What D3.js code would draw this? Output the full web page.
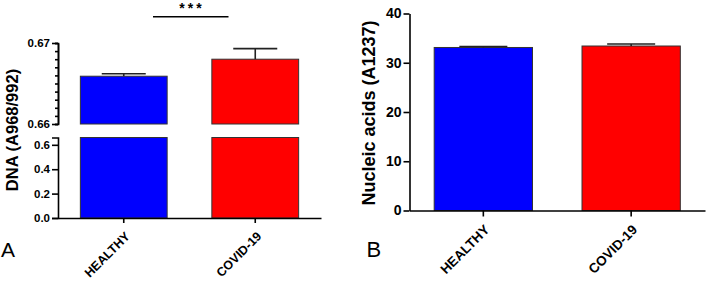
<!DOCTYPE html>
<html>
<head>
<meta charset="utf-8">
<script src="https://cdn.jsdelivr.net/npm/d3@7"></script>
<style>
  body { margin: 0; background: #fff; }
  text { font-family: Arial, "Liberation Sans", sans-serif; }
</style>
</head>
<body>
<div id="chart"></div>
<script>
const width = 708;
const height = 284;

// data
const categories = ["HEALTHY", "COVID-19"];
const dnaMean = [0.6659, 0.6680];
const dnaErr = [0.0003, 0.0013];
const nucleicMean = [33.1, 33.4];
const nucleicErr = [0.2, 0.4];
const dnaUpperTicks = [0.66, 0.67];
const dnaLowerTicks = [0, 0.2, 0.4, 0.6];
const nucleicTicks = [0, 10, 20, 30, 40];
const colors = ["#0000ff", "#ff0000"];

const svg = d3.select("#chart").append("svg")
    .attr("width", width)
    .attr("height", height);

function styleAxis(g, fontSize) {
    g.selectAll("path, line").attr("stroke", "#000").attr("stroke-width", 1.6);
    g.selectAll("text")
        .attr("font-size", fontSize)
        .attr("font-weight", "bold")
        .attr("fill", "#000")
        .attr("font-family", "Arial, 'Liberation Sans', sans-serif");
}

function xLabels(g, x, y0, fontSize, dx, dy) {
    g.selectAll(".xlab")
        .data(categories)
        .join("text")
        .attr("class", "xlab")
        .attr("text-anchor", "end")
        .attr("font-size", fontSize)
        .attr("font-weight", "bold")
        .attr("transform", d => `translate(${x(d) + x.bandwidth() / 2 + dx},${y0 + dy}) rotate(-45)`)
        .text(d => d);
}

// ---------- Panel A (broken axis) ----------
const a = { left: 58, right: 321, zero: 218 };
const xA = d3.scaleBand().domain(categories).range([a.left, a.right])
    .paddingInner(0.34).paddingOuter(0.17);
const yUp = d3.scaleLinear().domain([0.66, 0.67]).range([124, 43]);
const yLow = d3.scaleLinear().domain([0, 0.66]).range([a.zero, 137.5]);

const gA = svg.append("g");

// lower part of bars
gA.selectAll(".lowbar")
    .data(categories)
    .join("rect")
    .attr("x", d => xA(d))
    .attr("width", xA.bandwidth())
    .attr("y", yLow(0.66))
    .attr("height", yLow(0) - yLow(0.66))
    .attr("fill", (d, i) => colors[i])
    .attr("stroke", "#333").attr("stroke-width", 1);

// upper part of bars
gA.selectAll(".upbar")
    .data(categories)
    .join("rect")
    .attr("x", d => xA(d))
    .attr("width", xA.bandwidth())
    .attr("y", (d, i) => yUp(dnaMean[i]))
    .attr("height", (d, i) => yUp(0.66) - yUp(dnaMean[i]))
    .attr("fill", (d, i) => colors[i])
    .attr("stroke", "#333").attr("stroke-width", 1);

// error bars
categories.forEach((c, i) => {
    const cx = xA(c) + xA.bandwidth() / 2;
    gA.append("line")
        .attr("x1", cx).attr("x2", cx)
        .attr("y1", yUp(dnaMean[i])).attr("y2", yUp(dnaMean[i] + dnaErr[i]))
        .attr("stroke", "#222").attr("stroke-width", 1.6);
    gA.append("line")
        .attr("x1", cx - 22).attr("x2", cx + 22)
        .attr("y1", yUp(dnaMean[i] + dnaErr[i])).attr("y2", yUp(dnaMean[i] + dnaErr[i]))
        .attr("stroke", "#222").attr("stroke-width", 1.6);
});

// upper axis with minor ticks
const minorTicks = d3.range(0, 11).map(k => 0.66 + k * 0.001);
gA.append("g")
    .attr("transform", `translate(${a.left},0)`)
    .call(d3.axisLeft(yUp).tickValues(minorTicks).tickSize(3).tickFormat(""))
    .call(g => styleAxis(g, 11));
gA.append("g")
    .attr("transform", `translate(${a.left},0)`)
    .call(d3.axisLeft(yUp).tickValues(dnaUpperTicks).tickSize(6).tickSizeOuter(0).tickPadding(2)
        .tickFormat(d3.format(".2f")))
    .call(g => styleAxis(g, 11.5));

// lower axis
gA.append("g")
    .attr("transform", `translate(${a.left},0)`)
    .call(d3.axisLeft(yLow).tickValues(dnaLowerTicks).tickSize(6).tickSizeOuter(6).tickPadding(2)
        .tickFormat(d3.format(".1f")))
    .call(g => styleAxis(g, 11.5));

// x axis
gA.append("g")
    .attr("transform", `translate(0,${a.zero})`)
    .call(d3.axisBottom(xA).tickSize(5).tickSizeOuter(0).tickFormat(""))
    .call(g => styleAxis(g, 11));
xLabels(gA, xA, a.zero, 12.5, 7, 19);

gA.append("text")
    .attr("transform", `translate(18,130) rotate(-90)`)
    .attr("text-anchor", "middle")
    .attr("font-size", 16.5).attr("font-weight", "bold")
    .text("DNA (A968/992)");

gA.append("text").attr("x", 1).attr("y", 257).attr("font-size", 21).text("A");

// significance bracket
gA.append("line").attr("x1", 153).attr("x2", 228.5).attr("y1", 16.7).attr("y2", 16.7)
    .attr("stroke", "#000").attr("stroke-width", 1.4);
gA.append("text").attr("x", 192).attr("y", 12.7).attr("text-anchor", "middle")
    .attr("font-size", 14).attr("font-weight", "bold").attr("letter-spacing", 3)
    .text("***");

// ---------- Panel B ----------
const b = { left: 409.5, right: 705, zero: 210.5, top: 13.5 };
const xB = d3.scaleBand().domain(categories).range([b.left, b.right])
    .paddingInner(0.335).paddingOuter(0.167);
const yB = d3.scaleLinear().domain([0, 40]).range([b.zero, b.top]);

const gB = svg.append("g");

gB.selectAll(".bar")
    .data(categories)
    .join("rect")
    .attr("x", d => xB(d))
    .attr("width", xB.bandwidth())
    .attr("y", (d, i) => yB(nucleicMean[i]))
    .attr("height", (d, i) => yB(0) - yB(nucleicMean[i]))
    .attr("fill", (d, i) => colors[i])
    .attr("stroke", "#333").attr("stroke-width", 1);

categories.forEach((c, i) => {
    const cx = xB(c) + xB.bandwidth() / 2;
    gB.append("line")
        .attr("x1", cx).attr("x2", cx)
        .attr("y1", yB(nucleicMean[i])).attr("y2", yB(nucleicMean[i] + nucleicErr[i]))
        .attr("stroke", "#222").attr("stroke-width", 1.6);
    gB.append("line")
        .attr("x1", cx - 24).attr("x2", cx + 24)
        .attr("y1", yB(nucleicMean[i] + nucleicErr[i])).attr("y2", yB(nucleicMean[i] + nucleicErr[i]))
        .attr("stroke", "#222").attr("stroke-width", 1.6);
});

gB.append("g")
    .attr("transform", `translate(${b.left},0)`)
    .call(d3.axisLeft(yB).tickValues(nucleicTicks).tickSize(6).tickSizeOuter(0).tickPadding(2))
    .call(g => styleAxis(g, 14));

gB.append("g")
    .attr("transform", `translate(0,${b.zero})`)
    .call(d3.axisBottom(xB).tickSize(6).tickSizeOuter(0).tickFormat(""))
    .call(g => styleAxis(g, 13));
xLabels(gB, xB, b.zero, 13.5, 7, 20);

gB.append("text")
    .attr("transform", `translate(375,113) rotate(-90)`)
    .attr("text-anchor", "middle")
    .attr("font-size", 18).attr("font-weight", "bold")
    .text("Nucleic acids (A1237)");

gB.append("text").attr("x", 366.5).attr("y", 256.7).attr("font-size", 22).text("B");
</script>
</body>
</html>
